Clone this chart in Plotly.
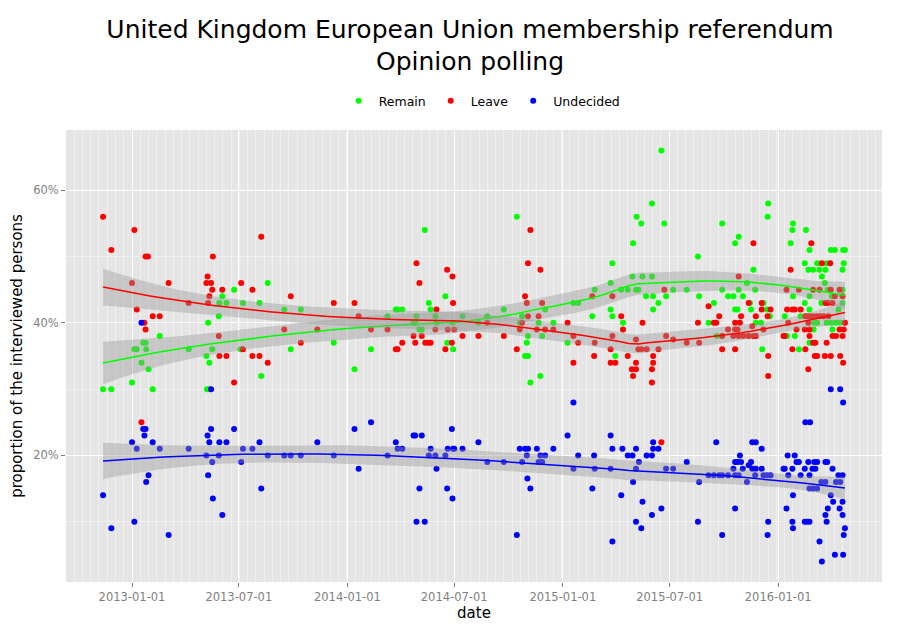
import numpy as np
import pandas as pd
import plotly.graph_objects as go

# poll dates are stored as days since 2013-01-01
EPOCH = pd.Timestamp("2013-01-01")

remain_day = [-49, -35, 0, 35, 4, 8, 19, 23, 24, 16, 28, 47, 96, 126, 131, 129, 136, 127, 131, 147,
              148, 160, 153, 173, 188, 216, 230, 258, 286, 184, 269, 219, 342, 377, 405, 433, 447, 450,
              458, 496, 503, 506, 482, 477, 480, 514, 516, 487, 491, 531, 534, 544, 543, 560, 587, 602,
              630, 652, 661, 657, 671, 669, 666, 671, 675, 692, 689, 695, 700, 714,
              897, 881, 855, 863, 902, 849, 814, 811, 848, 865, 881, 784, 829, 840, 854, 858, 748, 756,
              871, 883, 905, 892, 917, 780, 811, 814, 883, 832, 738, 819,
              940, 1000, 1078, 1077, 1028, 1022, 959, 1053, 1042, 1000, 1028, 1056, 961, 1010, 1019,
              1035, 986, 1047, 1049, 1070, 1022, 1026, 1076, 1081, 977, 1066, 1057, 991, 1045, 1068,
              1120, 1119, 1142, 1116, 1148, 1184, 1191, 1205, 1208, 1140, 1161, 1177, 1206, 1146, 1154,
              1165, 1175, 1204, 1169, 1174, 1179, 1204, 1120, 1148, 1186, 1140, 1168, 1204, 1148, 1197,
              1106, 1133, 1144, 1156, 1161, 1177, 1185, 1193, 1200, 1155, 1187, 1110, 1123, 1148, 1130]
remain_pct = [30, 30, 31, 30, 36, 36, 37, 37, 36, 34, 33, 38, 36, 35, 34, 40, 36, 30, 30, 41,
              43, 43, 44, 45, 43, 43, 46, 42, 42, 36, 36, 32, 37, 33, 36, 41, 42, 42,
              42, 54, 43, 42, 41, 40, 40, 41, 40, 39, 39, 44, 37, 36, 40, 41, 40, 41,
              42, 56, 41, 40, 38, 37, 35, 35, 31, 32, 40, 38, 42, 40,
              66, 58, 56, 55, 55, 52, 49, 46, 47, 47, 47, 45, 45, 45, 45, 45, 43, 43,
              44, 44, 44, 43, 45, 41, 42, 41, 42, 40, 37, 35,
              45, 55, 58, 56, 53, 52, 50, 48, 46, 45, 45, 45, 44, 44, 44,
              44, 43, 43, 42, 43, 42, 42, 42, 41, 40, 40, 40, 38, 38, 36,
              55, 54, 54, 52, 51, 51, 51, 51, 51, 49, 49, 49, 49, 48, 48,
              48, 48, 48, 47, 46, 45, 45, 44, 44, 44, 43, 43, 43, 42, 42,
              41, 41, 41, 40, 40, 40, 40, 40, 40, 39, 39, 38, 38, 37, 36]

leave_day = [-49, -35, 4, 23, 27, 0, 62, 8, 35, 47, 21, 23, 96, 16, 137, 128, 126, 134, 136, 153,
             131, 129, 147, 148, 160, 173,
             185, 204, 219, 269, 258, 314, 286, 342, 377, 384, 405, 433, 188, 204, 216, 230, 447, 450,
             458, 482, 487, 477, 491, 480, 497, 502, 506, 516, 514, 534, 543, 544, 535, 546, 531, 542,
             560, 587, 602, 630, 652, 661, 657, 666, 669, 671, 671, 675, 692, 695, 689, 686, 700, 714,
             738, 748, 756, 748, 780, 784, 783, 814, 814, 811, 811, 819, 829, 832, 840, 854, 865, 858,
             863, 872, 892, 854, 847, 854, 849, 883, 883, 881, 881, 902, 905, 917, 897,
             1053, 1028, 977, 1045, 1067, 1067, 1082, 995, 1032, 1057, 1077, 959, 986, 990, 1022, 1030,
             1051, 1010, 1022, 1026, 1070, 1000, 1019, 1028, 1036, 1045, 1053, 1057, 940, 961, 1000,
             1022, 1078, 1078, 1104,
             1151, 1116, 1169, 1183, 1109, 1130, 1154, 1165, 1184, 1199, 1191, 1204, 1175, 1179, 1187,
             1110, 1119, 1123, 1133, 1141, 1147, 1153, 1160, 1166, 1172, 1180, 1112, 1146, 1208, 1126,
             1140, 1148, 1199, 1206, 1106, 1148, 1187, 1193, 1204, 1154, 1158, 1177, 1119, 1141, 1157,
             1161, 1174, 1184, 1200, 1205, 1146]
leave_pct = [56, 51, 54, 50, 50, 46, 46, 42, 41, 41, 40, 39, 43, 25, 50, 47, 46, 46, 45, 45,
             44, 43, 38, 35, 35, 31,
             46, 45, 53, 44, 39, 39, 37, 43, 43, 41, 39, 39, 36, 35, 35, 34, 36, 36,
             37, 49, 46, 38, 38, 37, 37, 37, 37, 42, 39, 48, 47, 43, 39, 39, 36, 37,
             38, 38, 40, 38, 36, 40, 39, 44, 43, 41, 49, 54, 48, 43, 41, 39, 39, 39,
             40, 38, 37, 34, 44, 37, 35, 44, 38, 36, 34, 34, 41, 39, 35, 37.5, 40, 36,
             36, 36, 36, 34, 33, 33, 32, 35, 34, 33, 31, 45, 38, 37.5, 22,
             52, 47, 42.5, 43, 43, 42, 42, 41, 41, 41, 41, 40, 40, 40, 40, 40,
             39.5, 39, 39, 39, 39, 38, 38, 38, 38, 38, 38, 38, 37, 37, 36,
             36, 35, 32, 38,
             52, 48, 49, 49, 45, 45, 45, 45, 45, 45, 44, 44, 43, 43, 43,
             42, 42, 42, 42, 41, 41, 41, 41, 41, 41, 41, 40, 40, 40, 39,
             39, 39, 39, 39, 38, 38, 38, 38, 38, 37, 37, 37, 36, 36, 35,
             35, 35, 35, 35, 34, 33]

undecided_day = [-49, -35, 0, 8, 19, 23, 21, 35, 47, 28, 24, 4, 62, 96, 134, 134, 128, 131, 148, 160,
                 126, 147, 136, 129, 137, 153, 173, 16,
                 188, 185, 204, 216, 230, 219, 258, 269, 286, 314, 342, 377, 384, 405, 433, 447, 450,
                 458, 477, 480, 491, 506, 503, 514, 516, 487, 482, 496, 531, 535, 544, 546, 542, 534,
                 543, 560, 587, 602, 630, 652, 657, 666, 671, 669, 661, 670, 675, 686, 692, 700, 689,
                 695, 714,
                 748, 738, 811, 756, 783, 748, 784, 811, 814, 831, 854, 840, 848, 872, 881, 883, 883,
                 892, 859, 854, 905, 917, 849, 780, 829, 865, 897, 881, 854, 863, 814,
                 990, 1051, 1057, 1067, 1030, 940, 1022, 1026, 1032, 1049, 1045, 1019, 1035, 1051, 1057,
                 1067, 977, 986, 995, 1000, 1010, 1022, 1028, 1056, 1070, 1076, 1082, 961, 1042, 1104,
                 1022, 959, 1078, 1000, 1077,
                 1184, 1200, 1205, 1141, 1149, 1111, 1123, 1126, 1130, 1146, 1156, 1161, 1175, 1178,
                 1106, 1119, 1140, 1153, 1158, 1187, 1112, 1133, 1148, 1197, 1204, 1168, 1175, 1193,
                 1200, 1148, 1154, 1161, 1120, 1184, 1188, 1204, 1109, 1179, 1199, 1175, 1204, 1119,
                 1140, 1144, 1148, 1177, 1120, 1208, 1206, 1165, 1191, 1205, 1169]
undecided_pct = [14, 9, 22, 21, 24, 24, 23, 22, 21, 17, 16, 10, 8, 21, 30, 24, 23, 22, 22, 22,
                 20, 20, 19, 17, 13.5, 11, 24, 40,
                 21, 19, 21, 22, 20, 15, 20, 20, 20, 22, 20, 24, 18, 25, 20, 22, 21,
                 21, 23, 23, 23, 21, 20, 20, 18, 15, 10, 10, 20, 21, 21, 21, 24, 15,
                 13.5, 21, 22, 19, 19, 8, 21, 21, 21, 20, 19, 16.5, 15, 21, 20, 20, 19,
                 19, 21,
                 28, 23, 23, 20, 20, 18, 18, 18, 21, 21, 21, 20, 20, 20, 20, 22, 21,
                 21, 19, 18, 18, 18, 16, 15, 14, 13, 12, 11, 10, 9, 7,
                 22, 22, 22, 21, 20, 19, 19, 19, 19, 19, 18.5, 18, 18, 18, 18,
                 18, 17, 17, 17, 17, 17, 17, 17, 17, 17, 17, 17, 16, 16, 18,
                 12, 10, 10, 8, 8,
                 30, 30, 28, 25, 25, 20, 20, 19, 19, 19, 19, 19, 19, 19,
                 18, 18, 18, 18, 18, 18, 17, 17, 17, 17, 17, 16, 16, 16,
                 16, 15, 15, 15, 14, 14, 13, 13, 12, 12, 12, 11, 11, 10,
                 10, 10, 10, 10, 9, 9, 8, 7, 5, 5, 4]

series = [
    ("Remain", remain_day, remain_pct, "#00FF00"),
    ("Leave", leave_day, leave_pct, "#FF0000"),
    ("Undecided", undecided_day, undecided_pct, "#0000FF"),
]


def loess(x, y, grid, span=0.75):
    # local quadratic fit with tricube weights, like R's loess defaults
    x = np.asarray(x, float) / 365.0
    y = np.asarray(y, float)
    g = np.asarray(grid, float) / 365.0
    n = len(x)
    q = int(np.floor(n * span))

    def row(x0):
        d = np.abs(x - x0)
        h = np.sort(d)[q - 1] * 1.0000001
        w = np.clip(1 - (d / h) ** 3, 0, None) ** 3
        X = np.column_stack([np.ones(n), x - x0, (x - x0) ** 2])
        XtW = X.T * w
        return np.linalg.solve(XtW @ X, XtW)[0]

    L = np.array([row(v) for v in x])
    M = np.eye(n) - L
    res = M @ y
    delta1 = np.trace(M.T @ M)
    sigma = np.sqrt(np.sum(res ** 2) / delta1)

    Lg = np.array([row(v) for v in g])
    fit = Lg @ y
    se = sigma * np.sqrt(np.sum(Lg ** 2, axis=1))
    return fit, fit - 1.97 * se, fit + 1.97 * se


fig = go.Figure()

# points first, smooth bands on top (as geom_point + geom_smooth)
for name, day, pct, color in series:
    fig.add_trace(go.Scatter(
        x=EPOCH + pd.to_timedelta(day, unit="D"), y=pct, mode="markers", name=name,
        marker=dict(color=color, size=6, line=dict(width=0)),
    ))

for name, day, pct, color in series:
    grid = np.linspace(min(day), max(day), 80)
    fit, lo, hi = loess(day, pct, grid)
    gdates = EPOCH + pd.to_timedelta(grid, unit="D")
    fig.add_trace(go.Scatter(
        x=list(gdates) + list(gdates[::-1]), y=list(hi) + list(lo[::-1]),
        fill="toself", fillcolor="rgba(153,153,153,0.4)", line=dict(width=0),
        mode="lines", showlegend=False, hoverinfo="skip",
    ))
    fig.add_trace(go.Scatter(
        x=gdates, y=fit, mode="lines", line=dict(color=color, width=1.5),
        showlegend=False, hoverinfo="skip",
    ))

all_days = remain_day + leave_day + undecided_day
all_pct = remain_pct + leave_pct + undecided_pct
dspan = max(all_days) - min(all_days)
x_range = [EPOCH + pd.Timedelta(days=min(all_days) - 0.05 * dspan),
           EPOCH + pd.Timedelta(days=max(all_days) + 0.05 * dspan)]
pspan = max(all_pct) - min(all_pct)
y_range = [min(all_pct) - 0.05 * pspan, max(all_pct) + 0.05 * pspan]

# the page body adds an 8px offset, so the figure is 8px smaller than the window
fig.update_layout(
    width=892, height=622,
    margin=dict(l=58, r=18, t=122, b=48),
    paper_bgcolor="white", plot_bgcolor="#E5E5E5",
    font=dict(family="DejaVu Sans", size=12, color="black"),
    title=dict(text="United Kingdom European Union membership referendum<br>Opinion polling",
               x=0.518, xanchor="center", y=0.952, yanchor="middle", automargin=False,
               font=dict(size=25, color="black")),
    legend=dict(orientation="h", x=0.51, xanchor="center", y=1.064, yanchor="middle",
                font=dict(size=12.5), bgcolor="rgba(0,0,0,0)", itemwidth=30),
    showlegend=True,
)

fig.update_xaxes(
    range=x_range, tickformat="%Y-%m-%d", tick0="2013-01-01", dtick="M6",
    showgrid=True, gridcolor="white", gridwidth=1.2, zeroline=False, automargin=False,
    ticks="outside", ticklen=4, tickcolor="#7F7F7F",
    tickfont=dict(size=11.5, color="#7F7F7F"),
    minor=dict(tick0="2013-01-01", dtick=14 * 86400000, showgrid=True,
               gridcolor="#F0F0F0", gridwidth=0.6, ticks=""),
    title=dict(text="date", font=dict(size=15), standoff=2),
)
fig.update_yaxes(
    range=y_range, tickvals=[20, 40, 60], ticktext=["20%", "40%", "60%"],
    showgrid=True, gridcolor="white", gridwidth=1.2, zeroline=False, automargin=False,
    ticks="outside", ticklen=4, tickcolor="#7F7F7F",
    tickfont=dict(size=11.5, color="#7F7F7F"),
    minor=dict(tick0=0, dtick=10, showgrid=True, gridcolor="#F0F0F0", gridwidth=0.6, ticks=""),
    title=dict(text="proportion of the interviewed persons", font=dict(size=15), standoff=6),
)

fig.write_html("out.html")
